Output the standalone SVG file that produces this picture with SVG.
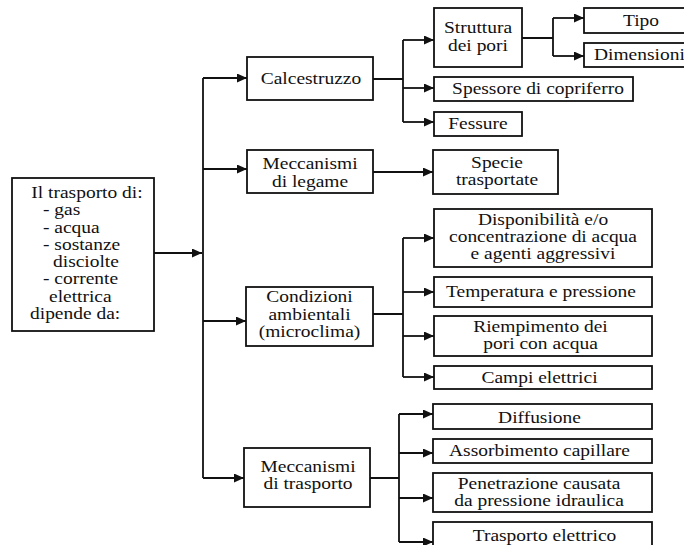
<svg xmlns="http://www.w3.org/2000/svg" width="684" height="545" viewBox="0 0 684 545" font-family="'Liberation Serif', 'Times New Roman', 'DejaVu Serif', serif">
<style>
.box{fill:#fff;stroke:#111;stroke-width:1.8}
.ln{fill:none;stroke:#111;stroke-width:1.8}
.ar{fill:none;stroke:#111;stroke-width:1.8;marker-end:url(#ah)}
text{font-family:'Liberation Serif','Times New Roman','DejaVu Serif',serif;font-size:16.5px;fill:#111}
.c{text-anchor:middle}
</style>
<defs>
<marker id="ah" markerUnits="userSpaceOnUse" markerWidth="11" markerHeight="9" refX="10" refY="4.5" orient="auto">
<path d="M0,0 L10,4.5 L0,9 z" fill="#111"/>
</marker>
</defs>
<rect width="684" height="545" fill="#fff"/>
<g id="connectors">
<path class="ar" d="M154,253 H202"/>
<path class="ln" d="M203,78 V478"/>
<path class="ar" d="M203,78 H247"/>
<path class="ar" d="M203,169 H247"/>
<path class="ar" d="M203,321 H246"/>
<path class="ar" d="M203,478 H244"/>
<path class="ln" d="M373,79 H403 M403,40 V122"/>
<path class="ar" d="M403,40 H434"/>
<path class="ar" d="M403,88 H434"/>
<path class="ar" d="M403,122 H434"/>
<path class="ln" d="M522,38 H553 M553,18 V56"/>
<path class="ar" d="M553,18 H584"/>
<path class="ar" d="M553,56 H584"/>
<path class="ar" d="M373,172 H433"/>
<path class="ln" d="M373,314 H403 M403,238 V377"/>
<path class="ar" d="M403,238 H434"/>
<path class="ar" d="M403,292 H434"/>
<path class="ar" d="M403,336 H434"/>
<path class="ar" d="M403,377 H434"/>
<path class="ln" d="M370,478 H399 M399,414 V542"/>
<path class="ar" d="M399,414 H433"/>
<path class="ar" d="M399,453 H433"/>
<path class="ar" d="M399,498 H433"/>
<path class="ar" d="M399,542 H433"/>
</g>
<g id="root">
<rect class="box" x="12" y="178" width="142" height="153"/>
<text class="c" transform="matrix(1.18 0 0 1 87 0)" y="198">Il trasporto di:</text>
<text transform="matrix(1.18 0 0 1 43 0)" y="215.3">- gas</text>
<text transform="matrix(1.18 0 0 1 43 0)" y="232.6">- acqua</text>
<text transform="matrix(1.18 0 0 1 43 0)" y="249.9">- sostanze</text>
<text transform="matrix(1.18 0 0 1 53 0)" y="267.2">disciolte</text>
<text transform="matrix(1.18 0 0 1 43 0)" y="284.5">- corrente</text>
<text transform="matrix(1.18 0 0 1 49 0)" y="301.8">elettrica</text>
<text transform="matrix(1.18 0 0 1 30 0)" y="319.1">dipende da:</text>
</g>
<g id="calcestruzzo">
<rect class="box" x="247" y="57" width="126" height="43"/>
<text class="c" transform="matrix(1.18 0 0 1 311 0)" y="84">Calcestruzzo</text>
</g>
<g id="struttura">
<rect class="box" x="434" y="8" width="88" height="59"/>
<text class="c" transform="matrix(1.18 0 0 1 478 0)" y="33">Struttura</text>
<text class="c" transform="matrix(1.18 0 0 1 478 0)" y="51">dei pori</text>
</g>
<g id="tipo">
<rect class="box" x="584" y="8" width="110" height="25"/>
<text class="c" transform="matrix(1.18 0 0 1 641 0)" y="26">Tipo</text>
</g>
<g id="dimensioni">
<rect class="box" x="584" y="43" width="110" height="24"/>
<text transform="matrix(1.18 0 0 1 594 0)" y="60.5">Dimensioni</text>
</g>
<g id="spessore">
<rect class="box" x="434" y="77" width="199" height="24"/>
<text class="c" transform="matrix(1.18 0 0 1 538 0)" y="94.5">Spessore di copriferro</text>
</g>
<g id="fessure">
<rect class="box" x="434" y="112" width="88" height="24"/>
<text class="c" transform="matrix(1.18 0 0 1 478 0)" y="129.5">Fessure</text>
</g>
<g id="legame">
<rect class="box" x="247" y="150" width="126" height="43"/>
<text class="c" transform="matrix(1.18 0 0 1 310 0)" y="169">Meccanismi</text>
<text class="c" transform="matrix(1.18 0 0 1 310 0)" y="187">di legame</text>
</g>
<g id="specie">
<rect class="box" x="433" y="150" width="125" height="44"/>
<text class="c" transform="matrix(1.18 0 0 1 497 0)" y="168">Specie</text>
<text class="c" transform="matrix(1.18 0 0 1 497 0)" y="185">trasportate</text>
</g>
<g id="condizioni">
<rect class="box" x="246" y="287" width="127" height="59"/>
<text class="c" transform="matrix(1.18 0 0 1 309.5 0)" y="302">Condizioni</text>
<text class="c" transform="matrix(1.18 0 0 1 309.5 0)" y="320">ambientali</text>
<text class="c" transform="matrix(1.18 0 0 1 309.5 0)" y="337">(microclima)</text>
</g>
<g id="disponibilita">
<rect class="box" x="434" y="209" width="218" height="58"/>
<text class="c" transform="matrix(1.18 0 0 1 543 0)" y="225">Disponibilità e/o</text>
<text class="c" transform="matrix(1.18 0 0 1 543 0)" y="242">concentrazione di acqua</text>
<text class="c" transform="matrix(1.18 0 0 1 543 0)" y="259">e agenti aggressivi</text>
</g>
<g id="temperatura">
<rect class="box" x="434" y="277" width="218" height="30"/>
<text class="c" transform="matrix(1.18 0 0 1 541 0)" y="297">Temperatura e pressione</text>
</g>
<g id="riempimento">
<rect class="box" x="434" y="316" width="218" height="40"/>
<text class="c" transform="matrix(1.18 0 0 1 540.5 0)" y="332">Riempimento dei</text>
<text class="c" transform="matrix(1.18 0 0 1 540.5 0)" y="349">pori con acqua</text>
</g>
<g id="campi">
<rect class="box" x="434" y="366" width="218" height="23"/>
<text class="c" transform="matrix(1.18 0 0 1 539.5 0)" y="383">Campi elettrici</text>
</g>
<g id="trasporto">
<rect class="box" x="244" y="448" width="126" height="59"/>
<text class="c" transform="matrix(1.18 0 0 1 308 0)" y="472">Meccanismi</text>
<text class="c" transform="matrix(1.18 0 0 1 308 0)" y="489">di trasporto</text>
</g>
<g id="diffusione">
<rect class="box" x="433" y="404" width="219" height="25"/>
<text class="c" transform="matrix(1.18 0 0 1 539.5 0)" y="423">Diffusione</text>
</g>
<g id="assorbimento">
<rect class="box" x="433" y="439" width="219" height="24"/>
<text class="c" transform="matrix(1.18 0 0 1 539.5 0)" y="456">Assorbimento capillare</text>
</g>
<g id="penetrazione">
<rect class="box" x="433" y="473" width="219" height="39"/>
<text class="c" transform="matrix(1.18 0 0 1 539 0)" y="489">Penetrazione causata</text>
<text class="c" transform="matrix(1.18 0 0 1 539 0)" y="506">da pressione idraulica</text>
</g>
<g id="elettrico">
<rect class="box" x="433" y="522" width="219" height="30"/>
<text class="c" transform="matrix(1.18 0 0 1 544.5 0)" y="541">Trasporto elettrico</text>
</g>
</svg>
